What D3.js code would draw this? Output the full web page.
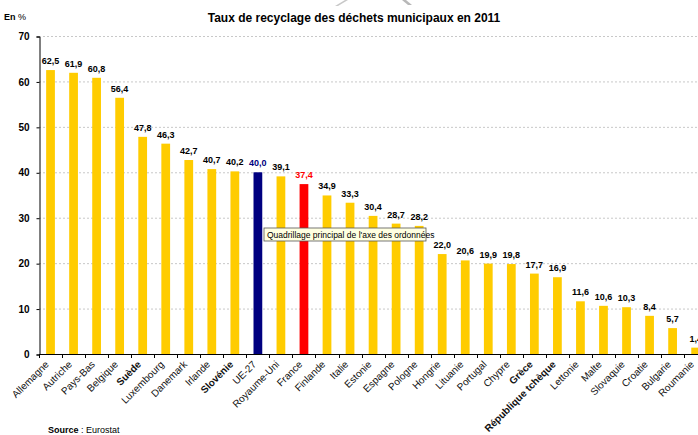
<!DOCTYPE html>
<html lang="fr">
<head>
<meta charset="UTF-8">
<title>Taux de recyclage des déchets municipaux en 2011</title>
<script src="https://d3js.org/d3.v7.min.js"></script>
<style>
  body { margin: 0; background: #fff; }
  svg { display: block; font-family: "Liberation Sans", Arial, sans-serif; }
</style>
</head>
<body>
<svg width="698" height="435"></svg>
<script>
// données
const pays = ["Allemagne", "Autriche", "Pays-Bas", "Belgique", "Suède", "Luxembourg", "Danemark",
  "Irlande", "Slovénie", "UE-27", "Royaume-Uni", "France", "Finlande", "Italie", "Estonie",
  "Espagne", "Pologne", "Hongrie", "Lituanie", "Portugal", "Chypre", "Grèce",
  "République tchèque", "Lettonie", "Malte", "Slovaquie", "Croatie", "Bulgarie", "Roumanie"];
const taux = [62.5, 61.9, 60.8, 56.4, 47.8, 46.3, 42.7, 40.7, 40.2, 40.0, 39.1, 37.4, 34.9, 33.3,
  30.4, 28.7, 28.2, 22.0, 20.6, 19.9, 19.8, 17.7, 16.9, 11.6, 10.6, 10.3, 8.4, 5.7, 1.4];
const enGras = ["Suède", "Slovénie", "Grèce", "République tchèque"];
const yTicks = [0, 10, 20, 30, 40, 50, 60, 70];

const svg = d3.select("svg");
const gauche = 39, bas = 354, haut = 36, pas = 23.04;

const x = d3.scaleBand().domain(pays)
  .range([gauche, gauche + pays.length * pas])
  .paddingInner(0.62).paddingOuter(0.31);
const y = d3.scaleLinear().domain([0, 70]).range([bas, haut]);

const couleur = d => d === "UE-27" ? "#000080" : d === "France" ? "#ff0000" : "#ffcc00";
const couleurTexte = d => d === "UE-27" ? "#000080" : d === "France" ? "#ff0000" : "#000";
const fmt = v => d3.format(".1f")(v).replace(".", ",");

// quadrillage
svg.append("g").selectAll("line").data(yTicks.slice(1)).join("line")
  .attr("x1", gauche).attr("x2", 698)
  .attr("y1", d => y(d) + 0.5).attr("y2", d => y(d) + 0.5)
  .attr("stroke", "#c8c8c8").attr("stroke-dasharray", "2,2");

// axe Y
const gy = svg.append("g").attr("transform", `translate(${gauche + 0.5},0.5)`)
  .call(d3.axisLeft(y).tickValues(yTicks).tickSize(3).tickPadding(7));
gy.select(".domain").attr("stroke", "#000");
gy.selectAll("text").attr("font-size", 10).attr("font-weight", "bold")
  .attr("font-family", "Liberation Sans, Arial, sans-serif");

// barres
svg.append("g").selectAll("rect").data(pays).join("rect")
  .attr("x", d => x(d)).attr("width", x.bandwidth())
  .attr("y", (d, i) => y(taux[i])).attr("height", (d, i) => bas - y(taux[i]))
  .attr("fill", couleur);

// valeurs
svg.append("g").selectAll("text").data(pays).join("text")
  .attr("x", d => x(d) + x.bandwidth() / 2)
  .attr("y", (d, i) => y(taux[i]) - 6)
  .attr("text-anchor", "middle").attr("font-size", 9).attr("font-weight", "bold")
  .attr("fill", couleurTexte)
  .text((d, i) => fmt(taux[i]));

// axe X
svg.append("line").attr("x1", gauche).attr("x2", 698)
  .attr("y1", bas + 0.5).attr("y2", bas + 0.5).attr("stroke", "#000");
svg.append("g").selectAll("line").data(d3.range(pays.length + 1)).join("line")
  .attr("x1", i => Math.round(gauche + i * pas) + 0.5).attr("x2", i => Math.round(gauche + i * pas) + 0.5)
  .attr("y1", bas).attr("y2", bas + 4).attr("stroke", "#000");

svg.append("g").selectAll("text").data(pays).join("text")
  .attr("transform", d => `translate(${x(d) + x.bandwidth() / 2 - 1},${bas + 11}) rotate(-45)`)
  .attr("text-anchor", "end").attr("font-size", 10)
  .attr("font-weight", d => enGras.includes(d) ? "bold" : "normal")
  .attr("fill", "#111")
  .text(d => d);

// titres
svg.append("text").attr("x", 354).attr("y", 22).attr("text-anchor", "middle")
  .attr("font-size", 12).attr("font-weight", "bold").text("Taux de recyclage des déchets municipaux en 2011");
svg.append("text").attr("x", 4).attr("y", 20).attr("font-size", 9)
  .html('<tspan font-weight="bold">En</tspan> %');
svg.append("text").attr("x", 48).attr("y", 433).attr("font-size", 9)
  .html('<tspan font-weight="bold">Source</tspan> : Eurostat');

// petites marques grises au-dessus du titre
svg.append("path").attr("d", "M335,6 L345,0 L348,0 L338,6 Z").attr("fill", "#c8c8c8");
svg.append("path").attr("d", "M402,0 L406,0 L412,5 L408,5 Z").attr("fill", "#b8b8b8");

// info-bulle
const tip = svg.append("g").attr("transform", "translate(264,228)");
tip.append("rect").attr("width", 162).attr("height", 13)
  .attr("fill", "#ffffe1").attr("stroke", "#555").attr("stroke-width", 0.8);
tip.append("text").attr("x", 3).attr("y", 9.5).attr("font-size", 8.5)
  .text("Quadrillage principal de l'axe des ordonnées");
</script>
</body>
</html>
